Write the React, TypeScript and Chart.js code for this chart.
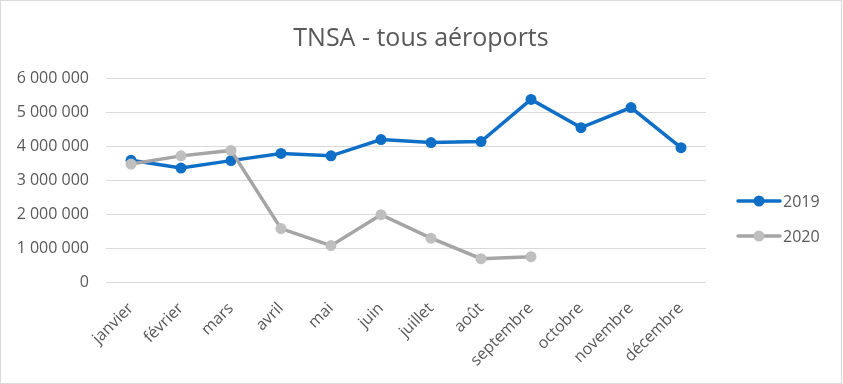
import React, { useEffect, useRef } from "react";
import { Chart, registerables } from "chart.js";

Chart.register(...registerables);

const chartTitle = "TNSA - tous aéroports";
const months = [
  "janvier", "février", "mars", "avril", "mai", "juin",
  "juillet", "août", "septembre", "octobre", "novembre", "décembre",
];
const values2019 = [3580000, 3350000, 3570000, 3780000, 3710000, 4190000, 4100000, 4130000, 5370000, 4540000, 5130000, 3950000];
const values2020 = [3470000, 3710000, 3870000, 1570000, 1070000, 1980000, 1290000, 685000, 745000, null, null, null];
const yTicks = [0, 1000000, 2000000, 3000000, 4000000, 5000000, 6000000];

const FONT = '"Open Sans", "Liberation Sans", sans-serif';
const TEXT = "#595959";
const BLUE = "#0F6FC6";
const GRAY_LINE = "#A5A5A5";
const GRAY_PT = "#BFBFBF";

const fmt = (v: number) => String(v).replace(/\B(?=(\d{3})+(?!\d))/g, " ");

const decorPlugin = {
  id: "decor",
  afterDraw(chart: any) {
    const ctx = chart.ctx;
    ctx.save();
    // border
    ctx.strokeStyle = "#D9D9D9";
    ctx.lineWidth = 1;
    ctx.strokeRect(0.5, 0.5, chart.width - 2, chart.height - 1);
    // title
    ctx.fillStyle = TEXT;
    ctx.font = `25px ${FONT}`;
    ctx.textAlign = "center";
    ctx.textBaseline = "alphabetic";
    ctx.fillText(chartTitle, 421, 46);
    // legend
    const legendItems = [
      { ds: chart.data.datasets[0], y: 201 },
      { ds: chart.data.datasets[1], y: 236 },
    ];
    legendItems.forEach(({ ds, y }) => {
      ctx.strokeStyle = ds.borderColor;
      ctx.lineWidth = ds.borderWidth;
      ctx.lineCap = "round";
      ctx.beginPath();
      ctx.moveTo(738, y);
      ctx.lineTo(780, y);
      ctx.stroke();
      ctx.fillStyle = ds.pointBackgroundColor;
      ctx.beginPath();
      ctx.arc(759, y, ds.pointRadius, 0, Math.PI * 2);
      ctx.fill();
      ctx.fillStyle = TEXT;
      ctx.font = `16px ${FONT}`;
      ctx.textAlign = "left";
      ctx.textBaseline = "middle";
      ctx.fillText(ds.label, 783, y + 1);
    });
    ctx.restore();
  },
};

export default function App() {
  const ref = useRef<HTMLCanvasElement>(null);
  useEffect(() => {
    if (!ref.current) return;
    const chart = new Chart(ref.current, {
      type: "line",
      data: {
        labels: months,
        datasets: [
          {
            label: "2019",
            data: values2019,
            borderColor: BLUE,
            backgroundColor: BLUE,
            pointBackgroundColor: BLUE,
            pointBorderColor: BLUE,
            borderWidth: 3.5,
            pointRadius: 5.5,
            pointBorderWidth: 0,
            tension: 0,
            order: 1,
          },
          {
            label: "2020",
            data: values2020,
            borderColor: GRAY_LINE,
            backgroundColor: GRAY_PT,
            pointBackgroundColor: GRAY_PT,
            pointBorderColor: GRAY_PT,
            borderWidth: 3.5,
            pointRadius: 5.5,
            pointBorderWidth: 0,
            tension: 0,
            order: 0,
          },
        ],
      },
      options: {
        responsive: false,
        animation: false,
        layout: { padding: { left: 0, right: 137, top: 78, bottom: 0 } },
        plugins: {
          legend: { display: false },
          title: { display: false },
          tooltip: { enabled: false },
        },
        scales: {
          x: {
            offset: true,
            grid: { display: false },
            border: { display: false },
            ticks: {
              color: TEXT,
              font: { family: FONT, size: 16 },
              minRotation: 45,
              maxRotation: 45,
              padding: 9,
              autoSkip: false,
            },
            afterFit(scale: any) {
              scale.height = 102;
            },
          },
          y: {
            min: 0,
            max: 6000000,
            afterBuildTicks(scale: any) {
              scale.ticks = yTicks.map((v) => ({ value: v }));
            },
            grid: { color: "#D9D9D9", lineWidth: 1, drawTicks: false },
            border: { display: false },
            ticks: {
              color: TEXT,
              font: { family: FONT, size: 16 },
              padding: 17,
              callback: (v: any) => fmt(Number(v)),
            },
            afterFit(scale: any) {
              scale.width = 106;
            },
          },
        },
      },
      plugins: [decorPlugin],
    });
    return () => chart.destroy();
  }, []);
  return (
    <div style={{ position: "fixed", left: 0, top: 0, width: 843, height: 384, background: "#fff" }}>
      <canvas ref={ref} width={843} height={384} style={{ width: 843, height: 384, display: "block" }} />
    </div>
  );
}
